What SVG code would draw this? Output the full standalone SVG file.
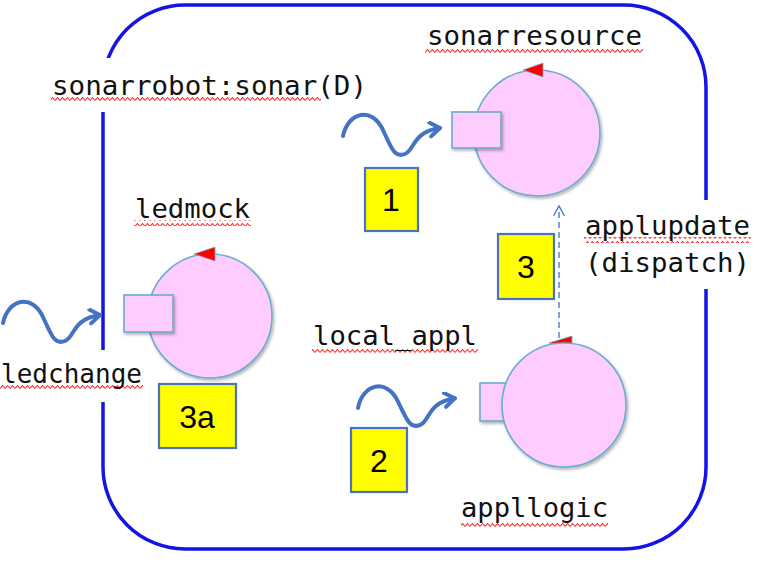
<svg xmlns="http://www.w3.org/2000/svg" width="763" height="565" viewBox="0 0 763 565">
<style>
.lbl{font-family:"DejaVu Sans Mono","Liberation Mono",monospace;font-size:27px;fill:#111}
.num{font-family:"Liberation Sans",Arial,sans-serif;font-size:32px;fill:#000;text-anchor:middle}
.actor{fill:#ffccff;stroke:#6aaccc;stroke-width:1.6}
.port{fill:#ffccff;stroke:#6aaccc;stroke-width:1.6}
.tri{fill:#ff0000;stroke:#6aaccc;stroke-width:0.8}
.step{fill:#ffff00;stroke:#4a72c4;stroke-width:2.2}
.wave{fill:none;stroke:#4472c4;stroke-width:4;stroke-linecap:round;stroke-linejoin:round}
.squig{fill:url(#sq)}
.bg{fill:#ffffff}
</style>
<defs>
<pattern id="sq" patternUnits="userSpaceOnUse" width="5" height="6">
<path d="M0,4.5 L2.5,1.5 L5,4.5" fill="none" stroke="#ff2020" stroke-width="1.1"/>
</pattern>
<filter id="sh" x="-20%" y="-20%" width="150%" height="150%">
<feDropShadow dx="1.5" dy="2" stdDeviation="1.8" flood-color="#000" flood-opacity="0.3"/>
</filter>
<marker id="chev" markerUnits="userSpaceOnUse" markerWidth="20" markerHeight="20" refX="13" refY="8" orient="auto">
<path d="M3,1 L13,8 L3,15" fill="none" stroke="#4472c4" stroke-width="4" stroke-linecap="round" stroke-linejoin="round"/>
</marker>
<marker id="open" markerUnits="userSpaceOnUse" markerWidth="16" markerHeight="16" refX="11" refY="6" orient="auto">
<path d="M1,0.5 L11,6 L1,11.5" fill="none" stroke="#4a7bc8" stroke-width="1.4"/>
</marker>
<path id="wv" d="M0,0 C5,-24 29,-30 40,-6 C49,14 52,22 62,18 C72,14 69,-4 97,-8"/>
</defs>

<g id="context">
<rect x="103" y="5" width="603" height="544" rx="82" ry="82" fill="none" stroke="#1414e6" stroke-width="3.5"/>
<rect class="bg" x="46" y="58" width="326" height="54"/>
<rect class="bg" x="0" y="350" width="160" height="52"/>
<rect class="bg" x="580" y="200" width="178" height="89"/>
<rect class="squig" x="51" y="95" width="270" height="6"/>
<text class="lbl" x="52" y="95" textLength="315" lengthAdjust="spacingAndGlyphs">sonarrobot:sonar(D)</text>
</g>

<g id="sonarresource">
<rect class="squig" x="425" y="47" width="218" height="6"/>
<text class="lbl" x="427" y="45" textLength="215" lengthAdjust="spacingAndGlyphs">sonarresource</text>
<circle class="actor" cx="537" cy="133" r="63" filter="url(#sh)"/>
<polygon class="tri" points="523,70 543,63 543,77"/>
<rect class="port" x="452" y="112" width="49" height="36" filter="url(#sh)"/>
</g>

<g id="ledmock">
<rect class="squig" x="134" y="220" width="117" height="6"/>
<text class="lbl" x="135" y="218" textLength="115" lengthAdjust="spacingAndGlyphs">ledmock</text>
<circle class="actor" cx="210" cy="316" r="62" filter="url(#sh)"/>
<polygon class="tri" points="194,254 215,247 215,261"/>
<rect class="port" x="124" y="295" width="49" height="37" filter="url(#sh)"/>
</g>

<g id="ledchange">
<rect class="squig" x="0" y="385" width="143" height="6"/>
<text class="lbl" x="1" y="383" textLength="141" lengthAdjust="spacingAndGlyphs">ledchange</text>
</g>

<g id="applogic">
<rect class="squig" x="312" y="347" width="166" height="6"/>
<text class="lbl" x="313" y="345" textLength="164" lengthAdjust="spacingAndGlyphs">local_appl</text>
<polygon class="tri" points="549,343 572,336 572,348"/>
<rect class="port" x="480" y="383" width="40" height="38" filter="url(#sh)"/>
<circle class="actor" cx="564" cy="405" r="62" filter="url(#sh)"/>
<rect class="squig" x="461" y="521" width="147" height="6"/>
<text class="lbl" x="461" y="517" textLength="147" lengthAdjust="spacingAndGlyphs">appllogic</text>
</g>

<g id="applupdate">
<rect class="squig" x="584" y="237" width="167" height="6"/>
<text class="lbl" x="585" y="235" textLength="165" lengthAdjust="spacingAndGlyphs">applupdate</text>
<text class="lbl" x="585" y="272" textLength="165" lengthAdjust="spacingAndGlyphs">(dispatch)</text>
</g>

<g id="step1"><rect class="step" x="365" y="168" width="53" height="63"/><text class="num" x="391" y="211">1</text></g>
<g id="step2"><rect class="step" x="351" y="428" width="56" height="64"/><text class="num" x="379" y="472">2</text></g>
<g id="step3"><rect class="step" x="498" y="234" width="56" height="65"/><text class="num" x="526" y="278">3</text></g>
<g id="step3a"><rect class="step" x="159" y="384" width="77" height="64"/><text class="num" x="197" y="428">3a</text></g>

<g id="connectors">
<use href="#wv" class="wave" transform="translate(343,136)" marker-end="url(#chev)"/>
<use href="#wv" class="wave" transform="translate(3,323)" marker-end="url(#chev)"/>
<use href="#wv" class="wave" transform="translate(358,408) rotate(-1)" marker-end="url(#chev)"/>
<line x1="559" y1="338" x2="559" y2="206" stroke="#4a7bc8" stroke-width="1.4" stroke-dasharray="6,4" marker-end="url(#open)"/>
</g>
</svg>
